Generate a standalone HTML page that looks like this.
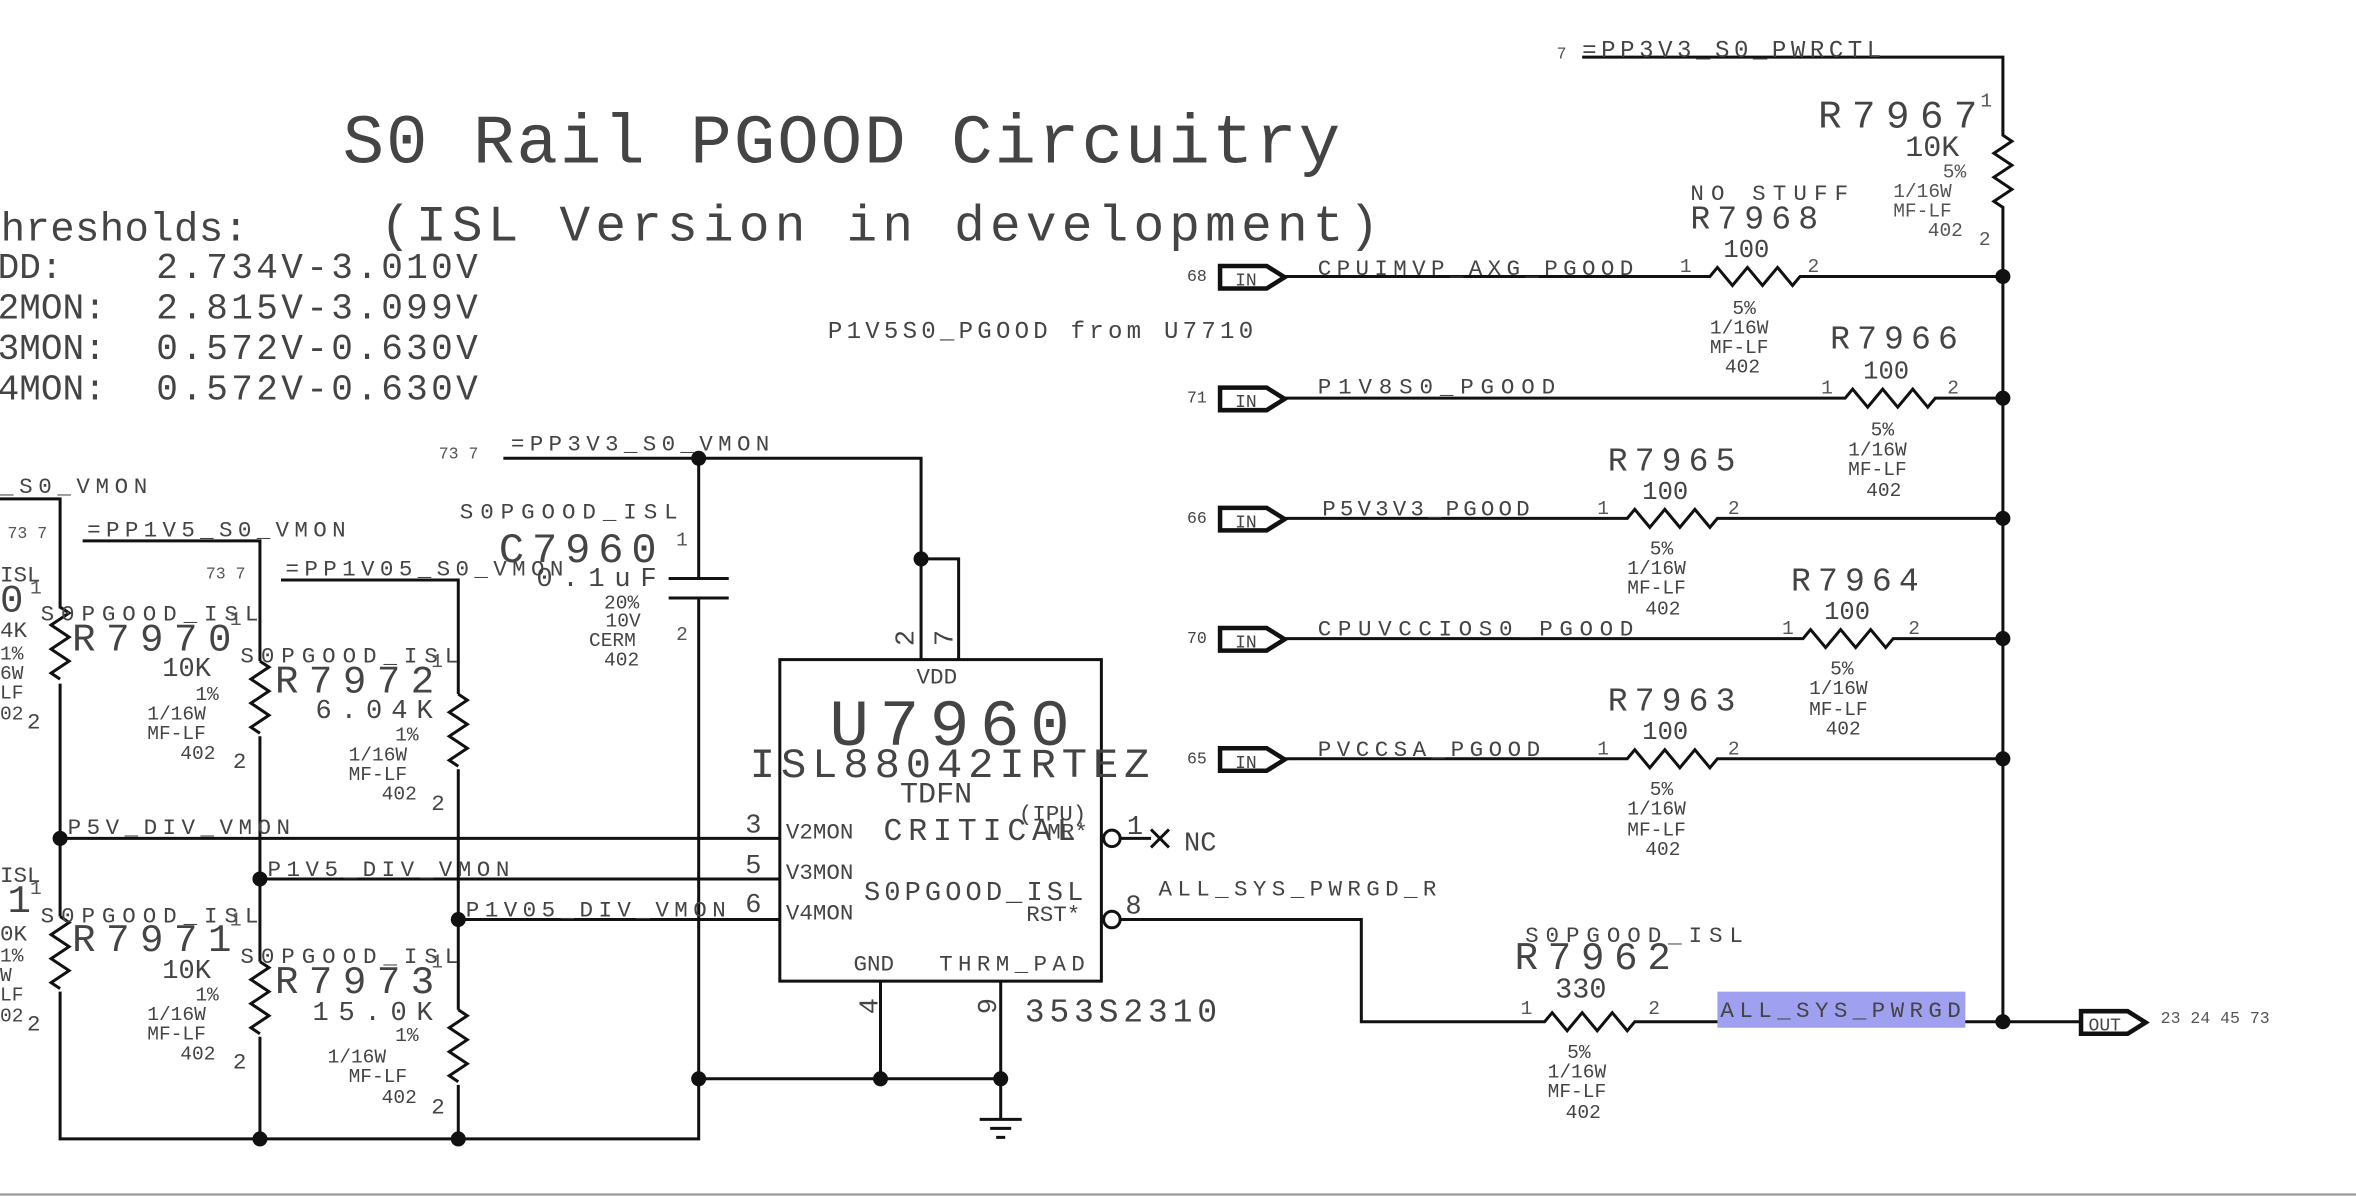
<!DOCTYPE html>
<html><head><meta charset="utf-8"><style>
html,body{margin:0;padding:0;background:#fff;}
svg{display:block;}
text{font-family:"Liberation Mono",monospace;fill:#444;}
.s{font-size:13px;fill:#555;}
.m{font-size:15px;}
.n{font-size:16px;}
.b{font-size:26px;}
</style></head><body>
<svg width="2356" height="1196" viewBox="0 0 1568 796" preserveAspectRatio="none" xmlns="http://www.w3.org/2000/svg">
<rect width="1568" height="796" fill="#fff"/>
<g stroke="#111" stroke-width="2" fill="none">
<path d="M1053 38 H1333 V90 l6 4 l-12 8 l12 8 l-12 8 l12 8 l-12 8 l6 4 V680"/>
<path d="M855 184 H1138 l5 -6 l10 12 l10 -12 l10 12 l10 -12 l10 12 l5 -6 H1333"/>
<path d="M855 265 H1228 l5 -6 l10 12 l10 -12 l10 12 l10 -12 l10 12 l5 -6 H1333"/>
<path d="M855 345 H1083 l5 -6 l10 12 l10 -12 l10 12 l10 -12 l10 12 l5 -6 H1333"/>
<path d="M855 425 H1200 l5 -6 l10 12 l10 -12 l10 12 l10 -12 l10 12 l5 -6 H1333"/>
<path d="M855 505 H1083 l5 -6 l10 12 l10 -12 l10 12 l10 -12 l10 12 l5 -6 H1333"/>
<path d="M746 612 H906 V680 H1028 l5 -6 l10 12 l10 -12 l10 12 l10 -12 l10 12 l5 -6 H1385"/>
<g stroke-width="3">
<path d="M812 177 H843 L855 184.5 L843 192 H812 Z"/>
<path d="M812 258 H843 L855 265.5 L843 273 H812 Z"/>
<path d="M812 338 H843 L855 345.5 L843 353 H812 Z"/>
<path d="M812 418 H843 L855 425.5 L843 433 H812 Z"/>
<path d="M812 498 H843 L855 505.5 L843 513 H812 Z"/>
<path d="M1385 673 H1416 L1428 680.5 L1416 688 H1385 Z"/>
</g>
<rect x="519" y="439" width="214" height="214"/>
<path d="M335 305 H613 V439 M613 372 H638 V439"/>
<path d="M465 305 V385 M445 385 H485 M445 398 H485 M465 398 V758 H40 V332 H0"/>
<path d="M465 718 H666 M586 653 V718 M666 653 V745 M652 745 H680 M659 751 H673 M663 757 H669"/>
<path d="M746 558 H766 M766 552 l12 12 M778 552 l-12 12"/>
<path d="M40 558 H519 M173 585 H519 M305 612 H519"/>
<path d="M55 360 H173 V758 M187 386 H305 V758"/>
</g>
<g stroke="#fff" stroke-width="6">
<path d="M40 405 V455 M173 440 V490 M305 462 V512 M40 610 V660 M173 640 V690 M305 672 V722"/>
</g>
<g stroke="#111" stroke-width="2" fill="none">
<path d="M40 404 l6 4 l-12 8 l12 8 l-12 8 l12 8 l-12 8 l6 4"/>
<path d="M173 440 l6 4 l-12 8 l12 8 l-12 8 l12 8 l-12 8 l6 4"/>
<path d="M305 462 l6 4 l-12 8 l12 8 l-12 8 l12 8 l-12 8 l6 4"/>
<path d="M40 610 l6 4 l-12 8 l12 8 l-12 8 l12 8 l-12 8 l6 4"/>
<path d="M173 640 l6 4 l-12 8 l12 8 l-12 8 l12 8 l-12 8 l6 4"/>
<path d="M305 672 l6 4 l-12 8 l12 8 l-12 8 l12 8 l-12 8 l6 4"/>
<circle cx="740" cy="558" r="5.5" fill="#fff"/>
<circle cx="740" cy="612" r="5.5" fill="#fff"/>
</g>
<g fill="#111">
<circle cx="1333" cy="184" r="5"/><circle cx="1333" cy="265" r="5"/><circle cx="1333" cy="345" r="5"/>
<circle cx="1333" cy="425" r="5"/><circle cx="1333" cy="505" r="5"/><circle cx="1333" cy="680" r="5"/>
<circle cx="465" cy="305" r="5"/><circle cx="613" cy="372" r="5"/>
<circle cx="465" cy="718" r="5"/><circle cx="586" cy="718" r="5"/><circle cx="666" cy="718" r="5"/>
<circle cx="40" cy="558" r="5"/><circle cx="173" cy="585" r="5"/><circle cx="305" cy="612" r="5"/>
<circle cx="173" cy="758" r="5"/><circle cx="305" cy="758" r="5"/>
</g>
<line x1="0" y1="795" x2="1568" y2="795" stroke="#999" stroke-width="1.5"/>
<rect x="1143" y="660" width="165" height="24" fill="#a0a0f0"/>

<text x="228" y="108" style="font-size:46px" textLength="664">S0 Rail PGOOD Circuitry</text>
<text x="253" y="160" style="font-size:34px" textLength="665">(ISL Version in development)</text>
<text x="-16" y="160" style="font-size:27px" textLength="181">Thresholds:</text>
<text x="-16" y="185" style="font-size:24px">VDD:</text>
<text x="-16" y="212" style="font-size:24px">V2MON:</text>
<text x="-16" y="239" style="font-size:24px">V3MON:</text>
<text x="-16" y="266" style="font-size:24px">V4MON:</text>
<text x="104" y="185" style="font-size:24px" textLength="214">2.734V-3.010V</text>
<text x="104" y="212" style="font-size:24px" textLength="214">2.815V-3.099V</text>
<text x="104" y="239" style="font-size:24px" textLength="214">0.572V-0.630V</text>
<text x="104" y="266" style="font-size:24px" textLength="214">0.572V-0.630V</text>
<text x="551" y="225" class="n" textLength="283">P1V5S0_PGOOD from U7710</text>

<text x="1036" y="39" class="s" style="font-size:11px">7</text>
<text x="1053" y="38" class="n" textLength="199">=PP3V3_S0_PWRCTL</text>
<text x="1210" y="85" class="b" textLength="106">R7967</text><text x="1318" y="71" class="s">1</text>
<text x="1268" y="104" style="font-size:20px">10K</text>
<text x="1293" y="118" class="s">5%</text><text x="1260" y="131" class="s">1/16W</text><text x="1260" y="144" class="s">MF-LF</text><text x="1283" y="157" class="s">402</text><text x="1317" y="163" class="s">2</text>

<g class="s" style="font-size:11px"><text x="790" y="187">68</text><text x="790" y="268">71</text><text x="790" y="348">66</text><text x="790" y="428">70</text><text x="790" y="508">65</text></g>
<g style="font-size:12px"><text x="822" y="190">IN</text><text x="822" y="271">IN</text><text x="822" y="351">IN</text><text x="822" y="431">IN</text><text x="822" y="511">IN</text><text x="1390" y="686">OUT</text></g>
<text x="1438" y="681" class="s" style="font-size:11px">23 24 45 73</text>

<text x="877" y="183" class="m" textLength="210">CPUIMVP_AXG_PGOOD</text>
<text x="877" y="262" class="m" textLength="158">P1V8S0_PGOOD</text>
<text x="880" y="343" class="m" textLength="138">P5V3V3_PGOOD</text>
<text x="877" y="423" class="m" textLength="210">CPUVCCIOS0_PGOOD</text>
<text x="877" y="503" class="m" textLength="148">PVCCSA_PGOOD</text>

<text x="1125" y="133" class="m" textLength="105">NO STUFF</text>
<text x="1125" y="152" style="font-size:22px" textLength="85">R7968</text>
<text x="1147" y="171" style="font-size:17px">100</text>
<text x="1118" y="181" class="s">1</text><text x="1203" y="181" class="s">2</text>
<g class="s"><text x="1153" y="209">5%</text><text x="1138" y="222">1/16W</text><text x="1138" y="235">MF-LF</text><text x="1148" y="248">402</text></g>

<text x="1218" y="232" style="font-size:22px" textLength="85">R7966</text>
<text x="1240" y="252" style="font-size:17px">100</text>
<text x="1212" y="262" class="s">1</text><text x="1296" y="262" class="s">2</text>
<g class="s"><text x="1245" y="290">5%</text><text x="1230" y="303">1/16W</text><text x="1230" y="316">MF-LF</text><text x="1242" y="330">402</text></g>

<text x="1070" y="313" style="font-size:22px" textLength="85">R7965</text>
<text x="1093" y="332" style="font-size:17px">100</text>
<text x="1063" y="342" class="s">1</text><text x="1150" y="342" class="s">2</text>
<g class="s"><text x="1098" y="369">5%</text><text x="1083" y="382">1/16W</text><text x="1083" y="395">MF-LF</text><text x="1095" y="409">402</text></g>

<text x="1192" y="393" style="font-size:22px" textLength="85">R7964</text>
<text x="1214" y="412" style="font-size:17px">100</text>
<text x="1186" y="422" class="s">1</text><text x="1270" y="422" class="s">2</text>
<g class="s"><text x="1218" y="449">5%</text><text x="1204" y="462">1/16W</text><text x="1204" y="476">MF-LF</text><text x="1215" y="489">402</text></g>

<text x="1070" y="473" style="font-size:22px" textLength="85">R7963</text>
<text x="1093" y="492" style="font-size:17px">100</text>
<text x="1063" y="502" class="s">1</text><text x="1150" y="502" class="s">2</text>
<g class="s"><text x="1098" y="529">5%</text><text x="1083" y="542">1/16W</text><text x="1083" y="556">MF-LF</text><text x="1095" y="569">402</text></g>

<text x="1015" y="627" class="m" textLength="145">S0PGOOD_ISL</text>
<text x="1008" y="645" style="font-size:26px" textLength="104">R7962</text>
<text x="1035" y="664" style="font-size:19px">330</text>
<text x="1012" y="675" class="s">1</text><text x="1097" y="675" class="s">2</text>
<g class="s"><text x="1043" y="704">5%</text><text x="1030" y="717">1/16W</text><text x="1030" y="730">MF-LF</text><text x="1042" y="744">402</text></g>
<text x="1145" y="677" class="m" textLength="160">ALL_SYS_PWRGD</text>
<text x="771" y="596" class="m" textLength="185">ALL_SYS_PWRGD_R</text>

<text x="610" y="455" class="m">VDD</text>
<text x="552" y="496" style="font-size:44px" textLength="160">U7960</text>
<text x="499" y="517" style="font-size:28px" textLength="266">ISL88042IRTEZ</text>
<text x="599" y="534" style="font-size:20px">TDFN</text>
<text x="588" y="559" style="font-size:21px" textLength="128">CRITICAL</text>
<text x="678" y="546" class="m">(IPU)</text>
<text x="697" y="558" class="m">MR*</text>
<text x="575" y="599" style="font-size:18px" textLength="146">S0PGOOD_ISL</text>
<text x="683" y="613" class="m">RST*</text>
<text x="523" y="558" class="m">V2MON</text><text x="523" y="585" class="m">V3MON</text><text x="523" y="612" class="m">V4MON</text>
<text x="568" y="646" class="m">GND</text><text x="625" y="646" class="m" textLength="97">THRM_PAD</text>
<g style="font-size:18px"><text x="496" y="554">3</text><text x="496" y="581">5</text><text x="496" y="607">6</text><text x="750" y="555">1</text><text x="749" y="608">8</text></g>
<text x="788" y="566" style="font-size:18px">NC</text>
<text transform="translate(608,430) rotate(-90)" style="font-size:18px">2</text>
<text transform="translate(634,430) rotate(-90)" style="font-size:18px">7</text>
<text transform="translate(584,675) rotate(-90)" style="font-size:18px">4</text>
<text transform="translate(663,675) rotate(-90)" style="font-size:18px">9</text>
<text x="682" y="680" style="font-size:22px" textLength="128">353S2310</text>

<text x="292" y="305" class="s" style="font-size:11px">73 7</text>
<text x="340" y="300" class="m" textLength="172">=PP3V3_S0_VMON</text>
<text x="306" y="345" class="m" textLength="145">S0PGOOD_ISL</text>
<text x="332" y="374" style="font-size:28px" textLength="105">C7960</text>
<text x="450" y="363" class="s">1</text>
<text x="357" y="390" style="font-size:18px" textLength="80">0.1uF</text>
<g class="s"><text x="402" y="405">20%</text><text x="403" y="417">10V</text><text x="392" y="430">CERM</text><text x="402" y="443">402</text></g>
<text x="450" y="426" class="s">2</text>

<text x="0" y="328" class="m" textLength="98">_S0_VMON</text>
<text x="5" y="358" class="s" style="font-size:11px">73 7</text>
<text x="58" y="357" class="m" textLength="172">=PP1V5_S0_VMON</text>
<text x="137" y="385" class="s" style="font-size:11px">73 7</text>
<text x="190" y="383" class="m" textLength="185">=PP1V05_S0_VMON</text>
<text x="45" y="555" class="m" textLength="148">P5V_DIV_VMON</text>
<text x="178" y="583" class="m" textLength="161">P1V5_DIV_VMON</text>
<text x="310" y="610" class="m" textLength="173">P1V05_DIV_VMON</text>

<text x="0" y="387" class="m">ISL</text><text x="0" y="407" style="font-size:26px">0</text><text x="20" y="395" class="s">1</text>
<g class="s"><text x="0" y="424" style="font-size:15px">4K</text><text x="0" y="439">1%</text><text x="0" y="452">6W</text><text x="0" y="465">LF</text><text x="0" y="479">02</text></g><text x="18" y="485" class="m">2</text>
<text x="0" y="587" class="m">ISL</text><text x="5" y="607" style="font-size:26px">1</text><text x="20" y="595" class="s">1</text>
<g class="s"><text x="0" y="626" style="font-size:15px">0K</text><text x="0" y="640">1%</text><text x="0" y="653">W</text><text x="0" y="666">LF</text><text x="0" y="680">02</text></g><text x="18" y="686" class="m">2</text>

<text x="27" y="413" class="m" textLength="145">S0PGOOD_ISL</text>
<text x="48" y="433" style="font-size:26px" textLength="106">R7970</text><text x="153" y="416" class="s">1</text>
<text x="108" y="450" style="font-size:18px">10K</text>
<g class="s"><text x="130" y="466">1%</text><text x="98" y="479">1/16W</text><text x="98" y="492">MF-LF</text><text x="120" y="505">402</text></g><text x="155" y="511" class="m">2</text>

<text x="160" y="441" class="m" textLength="145">S0PGOOD_ISL</text>
<text x="183" y="461" style="font-size:26px" textLength="106">R7972</text><text x="287" y="444" class="s">1</text>
<text x="210" y="478" style="font-size:18px" textLength="78">6.04K</text>
<g class="s"><text x="263" y="493">1%</text><text x="232" y="506">1/16W</text><text x="232" y="519">MF-LF</text><text x="254" y="532">402</text></g><text x="287" y="539" class="m">2</text>

<text x="27" y="614" class="m" textLength="145">S0PGOOD_ISL</text>
<text x="48" y="633" style="font-size:26px" textLength="106">R7971</text><text x="153" y="616" class="s">1</text>
<text x="108" y="651" style="font-size:18px">10K</text>
<g class="s"><text x="130" y="666">1%</text><text x="98" y="679">1/16W</text><text x="98" y="692">MF-LF</text><text x="120" y="705">402</text></g><text x="155" y="711" class="m">2</text>

<text x="160" y="641" class="m" textLength="145">S0PGOOD_ISL</text>
<text x="183" y="661" style="font-size:26px" textLength="106">R7973</text><text x="287" y="644" class="s">1</text>
<text x="208" y="679" style="font-size:18px" textLength="80">15.0K</text>
<g class="s"><text x="263" y="693">1%</text><text x="218" y="707">1/16W</text><text x="232" y="720">MF-LF</text><text x="254" y="734">402</text></g><text x="287" y="741" class="m">2</text>
</svg>
</body></html>
